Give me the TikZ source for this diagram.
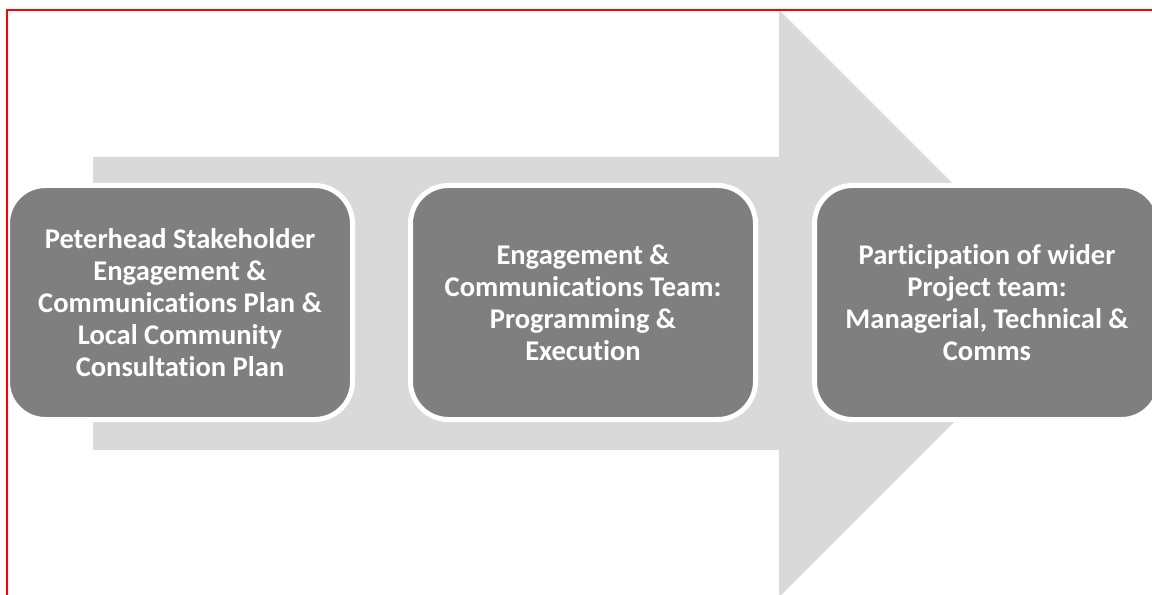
\documentclass[tikz,border=0pt]{standalone}
\usepackage{fontspec}
\setmainfont{Carlito}[Ligatures=NoCommon]
\definecolor{cd9d9d9}{RGB}{217,217,217}
\definecolor{c7f7f7f}{RGB}{127,127,127}
\definecolor{cff0000}{RGB}{255,0,0}
\tikzset{
  stage/.style={rectangle, rounded corners=28.5pt, fill=c7f7f7f, draw=white,
    line width=3.75pt, minimum width=258.75pt, minimum height=175.5pt,
    align=center, text=white, font=\fontsize{21.4}{24}\selectfont\bfseries},
}

\begin{document}
\begin{tikzpicture}[y=0.75pt, x=0.75pt, yscale=-1, inner sep=0pt, outer sep=0pt]
  \useasboundingbox (0,0) rectangle (1152,595);
  \clip (0,0) rectangle (1152,595);
  \path[fill=white] (0,0) rectangle (1152,595);
  % big arrow behind the stages
  \path[fill=cd9d9d9] (93,157) -- (779,157) -- (779,10) -- (1072.5,303.5) --
    (779,597) -- (779,450) -- (93,450) -- cycle;
  % stages
  \node[stage] (stage1) at (180,302.5) {Peterhead Stakeholder\\Engagement \&\\
    Communications Plan \&\\Local Community\\Consultation Plan};
  \node[stage] (stage2) at (583,302.5) {Engagement \&\\Communications Team:\\
    Programming \&\\Execution};
  \node[stage] (stage3) at (987,302.5) {Participation of wider\\Project team:\\
    Managerial, Technical \&\\Comms};
  % frame
  \path[draw=cff0000, line width=1.5pt] (7,600) -- (7,10) -- (1160,10);
\end{tikzpicture}
\end{document}
